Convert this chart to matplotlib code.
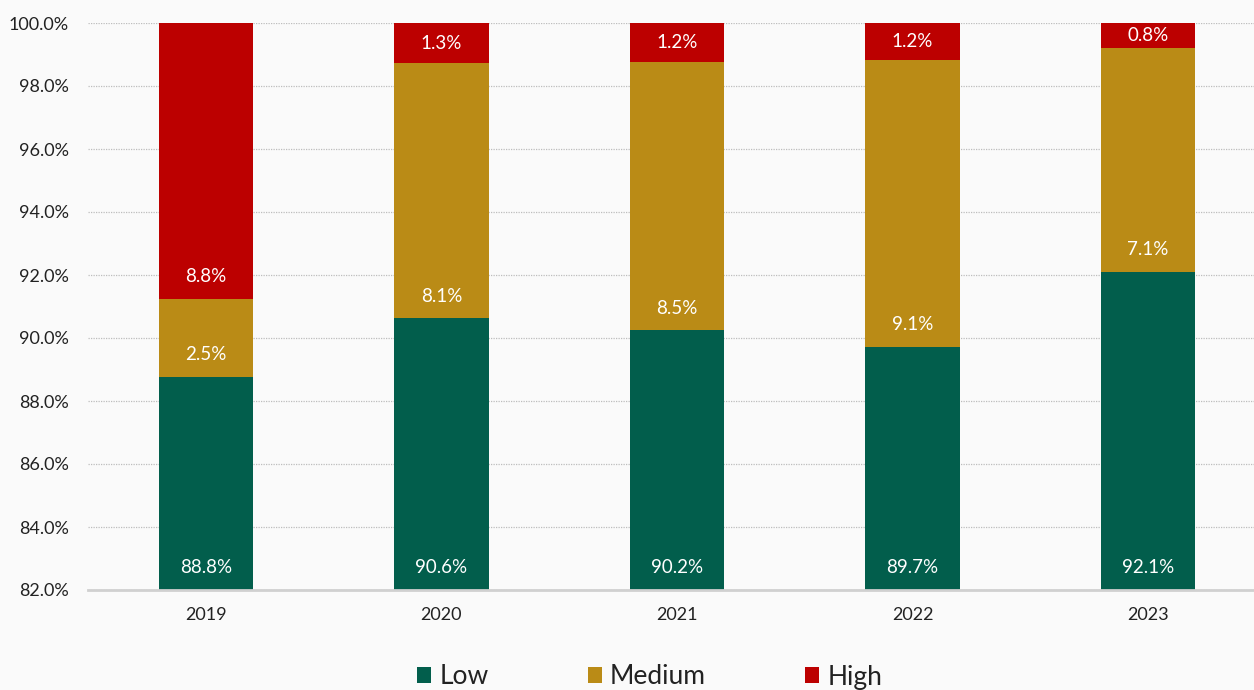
import matplotlib.pyplot as plt
import numpy as np

plt.rcParams['font.family'] = ['Lato', 'DejaVu Sans']

years = ['2019', '2020', '2021', '2022', '2023']
low = [88.77, 90.62, 90.24, 89.72, 92.10]
medium = [2.48, 8.10, 8.53, 9.10, 7.10]
high = [8.76, 1.28, 1.23, 1.18, 0.80]

c_low = '#025E4C'
c_med = '#BA8B16'
c_high = '#BC0000'
txt = '#222222'

fig = plt.figure(figsize=(12.54, 6.9), dpi=100, facecolor='#fafafa')
ax = fig.add_axes([88/1254, 100/690, 1 - 88/1254, 567/690])
ax.set_facecolor('#fafafa')

x = np.arange(len(years))
w = 0.4
low_a = np.array(low)
med_a = np.array(medium)
high_a = np.array(high)

b1 = ax.bar(x, low_a, w, color=c_low, label='Low', zorder=3)
b2 = ax.bar(x, med_a, w, bottom=low_a, color=c_med, label='Medium', zorder=3)
b3 = ax.bar(x, high_a, w, bottom=low_a + med_a, color=c_high, label='High', zorder=3)

ymin, ymax = 82, 100
ax.set_ylim(ymin, ymax)
ax.set_xlim(-0.5, 4.5 - 12/236)

# inside-base labels, kept inside the visible part of the segment
for vals, bottoms in [(low_a, low_a * 0), (med_a, low_a), (high_a, low_a + med_a)]:
    for i in range(len(x)):
        b = max(bottoms[i], ymin)
        t = min(bottoms[i] + vals[i], ymax)
        y = min(b + 0.7, (b + t) / 2)
        ax.text(x[i], y, f'{vals[i]:.1f}%', ha='center', va='center',
                color='white', fontsize=13.5, zorder=4)

ax.set_yticks(np.arange(82, 100.1, 2))
ax.set_yticklabels([f'{v:.1f}%' for v in np.arange(82, 100.1, 2)])
ax.set_xticks(x)
ax.set_xticklabels(years)
ax.tick_params(axis='both', length=0, labelsize=13, colors=txt)
ax.tick_params(axis='y', pad=14)
ax.tick_params(axis='x', pad=12)

ax.grid(axis='y', linestyle=(0, (1, 1)), color='#bdbdbd', linewidth=0.9, zorder=0)
for s in ['top', 'right', 'left']:
    ax.spines[s].set_visible(False)
ax.spines['bottom'].set_color('#d0d0d0')
ax.spines['bottom'].set_linewidth(2)
ax.spines['bottom'].set_zorder(5)

leg = fig.legend(handles=[b1, b2, b3], loc='center', bbox_to_anchor=(0.518, 1 - 677/690),
                 ncol=3, frameon=False, fontsize=19, handlelength=0.55, handleheight=0.55,
                 handletextpad=0.3, columnspacing=3.75)
for t in leg.get_texts():
    t.set_color(txt)

fig.savefig('out.png', dpi=100, facecolor=fig.get_facecolor())
